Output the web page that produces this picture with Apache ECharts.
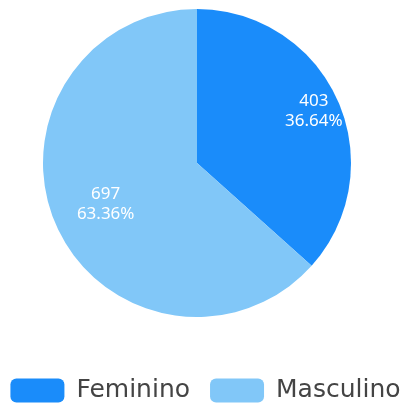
<!DOCTYPE html>
<html>
<head>
<meta charset="utf-8">
<script src="https://cdn.jsdelivr.net/npm/echarts@6/dist/echarts.min.js"></script>
<style>html,body{margin:0;padding:0;background:#fff}#main{width:411px;height:414px}</style>
</head>
<body>
<div id="main"></div>
<script>
var categories = ['Feminino', 'Masculino'];
var values = [403, 697];
var colors = ['#1a8cfa', '#81c7f8'];

var chart = echarts.init(document.getElementById('main'));
var cx = 197, cy = 163;
// push labels outward (reference draws them nearer the rim)
var pushOut = [1.6, 1.25];

var option = {
    color: colors,
    animation: false,
    legend: {
        bottom: 6,
        left: 'center',
        itemWidth: 54,
        itemHeight: 24,
        itemGap: 20,
        icon: 'roundRect',
        textStyle: {fontSize: 25, color: '#444', fontFamily: 'DejaVu Sans', padding: [0, 0, 0, 7]},
        data: categories
    },
    series: [
        {
            type: 'pie',
            center: [cx, cy],
            radius: 154,
            startAngle: 90,
            clockwise: true,
            label: {
                position: 'inside',
                color: '#fff',
                fontSize: 17,
                lineHeight: 20,
                fontFamily: 'Noto Sans',
                formatter: function (p) {
                    return p.value + '\n' + p.percent.toFixed(2) + '%';
                }
            },
            labelLayout: function (p) {
                var r = p.labelRect;
                var lx = r.x + r.width / 2, ly = r.y + r.height / 2;
                var k = pushOut[p.dataIndex] - 1;
                return {dx: (lx - cx) * k, dy: (ly - cy) * k};
            },
            data: categories.map(function (c, i) {
                return {name: c, value: values[i]};
            })
        }
    ]
};
chart.setOption(option);
</script>
</body>
</html>
